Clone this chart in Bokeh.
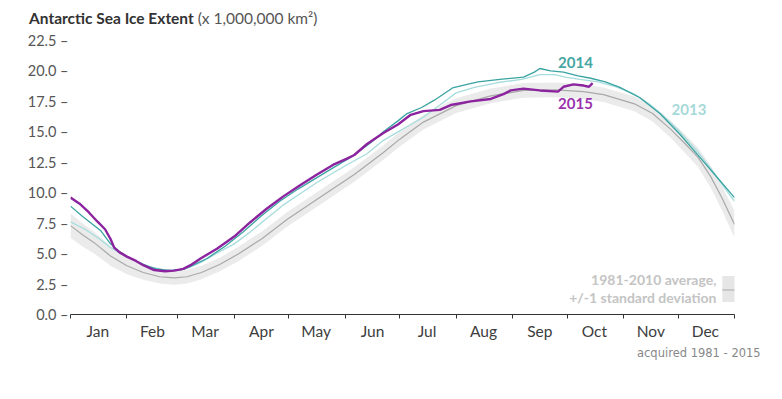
from bokeh.plotting import figure
from bokeh.models import (Range1d, FixedTicker, Label, BoxAnnotation, Div)
from bokeh.layouts import column
from bokeh.embed import file_html
from bokeh.resources import INLINE

# ---------------- data (day of year, million km^2) ----------------
month_names = ["Jan", "Feb", "Mar", "Apr", "May", "Jun", "Jul", "Aug", "Sep", "Oct", "Nov", "Dec"]
month_bounds = [0, 31, 59, 90, 120, 151, 181, 212, 243, 273, 304, 334, 365]
y_ticks = [0, 2.5, 5, 7.5, 10, 12.5, 15, 17.5, 20, 22.5]

avg_day = [0, 7, 13, 22, 31, 40, 49, 57, 64, 72, 82, 92, 105, 119, 137, 156, 172, 181, 194,
           212, 231, 249, 267, 282, 293, 310, 320, 330, 338, 345, 352, 358, 365]
avg_val = [7.3, 6.5, 5.9, 4.8, 4.0, 3.45, 3.1, 3.0, 3.1, 3.45, 4.1, 4.95, 6.2, 7.8, 9.6, 11.5, 13.3, 14.4, 15.8,
           17.15, 17.95, 18.4, 18.45, 18.3, 18.05, 17.3, 16.5, 15.2, 14.0, 12.9, 11.3, 9.6, 7.4]
avg_std = [1.0, 0.95, 0.9, 0.8, 0.7, 0.6, 0.55, 0.55, 0.55, 0.55, 0.55, 0.6, 0.6, 0.6, 0.6, 0.6, 0.6, 0.6, 0.6,
           0.6, 0.6, 0.6, 0.6, 0.6, 0.6, 0.6, 0.65, 0.7, 0.75, 0.8, 0.9, 1.0, 1.1]

d2013 = [0, 8, 16, 22, 29, 36, 44, 52, 60, 66, 72, 80, 90, 99, 108, 117, 126, 135, 144, 152, 163, 172,
         180, 187, 194, 203, 212, 222, 235, 248, 258, 266, 272, 280, 290, 300, 310, 318, 326, 335, 344, 353, 360, 365]
v2013 = [7.6, 7.0, 6.2, 5.5, 4.9, 4.4, 3.9, 3.65, 3.65, 3.9, 4.3, 5.0, 5.8, 6.8, 7.9, 9.0, 9.9, 10.8, 11.6, 12.3, 13.2, 14.3,
         15.0, 15.6, 16.2, 17.2, 18.2, 18.65, 19.05, 19.3, 19.7, 19.7, 19.5, 19.3, 19.1, 18.7, 18.1, 17.3, 16.3, 15.0, 13.5, 11.8, 10.3, 9.3]

d2014 = [0, 7, 16.5, 22, 27.5, 33, 40, 47, 55, 62, 68, 75, 85, 95, 105, 115, 125, 135, 145, 155, 165, 172,
         180, 185, 193, 200, 210, 218, 224, 236, 249, 255, 258, 264, 271, 279, 286, 294, 302, 313, 324, 335, 346, 355.5, 365]
v2014 = [8.9, 8.0, 6.9, 5.8, 5.1, 4.6, 4.1, 3.75, 3.6, 3.7, 4.1, 4.6, 5.6, 6.8, 8.1, 9.3, 10.3, 11.2, 12.1, 13.0, 14.1, 15.0,
         15.9, 16.5, 17.0, 17.6, 18.6, 18.9, 19.1, 19.3, 19.5, 19.9, 20.2, 20.0, 19.9, 19.6, 19.4, 19.1, 18.65, 17.8, 16.5, 14.8, 12.9, 11.25, 9.6]

d2015 = [0, 5, 10, 15, 19, 22, 24, 27, 31, 36, 40, 46, 52, 57, 62, 66, 71.5, 80.5, 90, 99, 108, 117, 126, 135.5,
         144.5, 152, 156, 163, 172, 180, 187, 194, 203, 209, 220, 231, 238, 242, 249, 258, 268, 271, 276.5, 282, 285, 287]
v2015 = [9.6, 9.1, 8.4, 7.6, 7.0, 6.2, 5.5, 5.1, 4.75, 4.4, 4.05, 3.65, 3.55, 3.6, 3.75, 4.05, 4.6, 5.4, 6.4, 7.6, 8.7, 9.7, 10.6, 11.5,
         12.3, 12.8, 13.1, 14.0, 14.9, 15.6, 16.4, 16.7, 16.8, 17.2, 17.5, 17.7, 18.1, 18.4, 18.55, 18.4, 18.3, 18.7, 18.9, 18.8, 18.7, 19.0]

# ---------------- figure ----------------
FONT = "Lato"
W = 776
p = figure(width=W, height=316, output_backend="svg", toolbar_location=None,
           x_range=Range1d(0, 365), y_range=Range1d(0, 22.5),
           min_border_left=70, min_border_right=42, min_border_top=12, min_border_bottom=30)
p.outline_line_color = None
p.xgrid.visible = False
p.ygrid.visible = False
p.background_fill_color = "white"

lo = [a - s for a, s in zip(avg_val, avg_std)]
hi = [a + s for a, s in zip(avg_val, avg_std)]
p.varea(x=avg_day, y1=lo, y2=hi, fill_color="#ebebeb")
p.line(avg_day, avg_val, line_color="#a9a9a9", line_width=1.2)
p.line(d2013, v2013, line_color="#a6dcdc", line_width=1.3)
p.line(d2014, v2014, line_color="#39a3a1", line_width=1.3)
p.line(d2015, v2015, line_color="#8c239f", line_width=2.4)

# x axis: month names centred, ticks at month boundaries
mids = [(month_bounds[i] + month_bounds[i + 1]) // 2 for i in range(12)]
xa = p.xaxis[0]
xa.ticker = FixedTicker(ticks=mids, minor_ticks=month_bounds)
xa.major_label_overrides = {m: n for m, n in zip(mids, month_names)}
xa.major_tick_out = 0
xa.major_tick_in = 0
xa.minor_tick_out = 4
xa.minor_tick_in = 0
xa.minor_tick_line_color = "#333333"
xa.axis_line_color = "#333333"
xa.major_label_text_font = FONT
xa.major_label_text_font_size = "15.5px"
xa.major_label_text_color = "#3d3d3d"
xa.major_label_standoff = 3

# y axis: labels "22.5 –"
ya = p.yaxis[0]
ya.ticker = FixedTicker(ticks=y_ticks, minor_ticks=[])
ya.major_label_overrides = {t: f"{t:.1f} \u2013" for t in y_ticks}
ya.axis_line_color = None
ya.major_tick_out = 0
ya.major_tick_in = 0
ya.minor_tick_out = 0
ya.minor_tick_in = 0
ya.major_label_text_font = FONT
ya.major_label_text_font_size = "14.5px"
ya.major_label_text_color = "#555555"
ya.major_label_standoff = 2

# series labels
p.add_layout(Label(x=277.6, y=20.7, text="2014", text_align="center", text_baseline="middle",
                   text_font=FONT, text_font_style="bold", text_font_size="15px", text_color="#45a6a4"))
p.add_layout(Label(x=277.6, y=17.3, text="2015", text_align="center", text_baseline="middle",
                   text_font=FONT, text_font_style="bold", text_font_size="15px", text_color="#9b32ae"))
p.add_layout(Label(x=340, y=16.8, text="2013", text_align="center", text_baseline="middle",
                   text_font=FONT, text_font_style="bold", text_font_size="15px", text_color="#a6d9d9"))

# legend for the average
p.add_layout(Label(x=355.1, y=2.84, text="1981-2010 average,", text_align="right", text_baseline="middle",
                   text_font=FONT, text_font_style="bold", text_font_size="14px", text_color="#c4c4c4"))
p.add_layout(Label(x=355.1, y=1.36, text="+/-1 standard deviation", text_align="right", text_baseline="middle",
                   text_font=FONT, text_font_style="bold", text_font_size="14px", text_color="#c4c4c4"))
p.add_layout(BoxAnnotation(left=358.3, right=366.5, bottom=1.03, top=3.17,
                           fill_color="#e6e6e6", fill_alpha=1, line_color=None))
p.add_layout(BoxAnnotation(left=358.3, right=366.5, bottom=1.97, top=2.05,
                           fill_color="#aaaaaa", fill_alpha=1, line_color=None))

# title and credit as page text around the figure
title_div = Div(
    text='<div style="padding:9px 0 0 29px; font-family:Lato; font-size:15.5px; line-height:18px; '
         'color:#555555; white-space:nowrap"><span style="font-weight:bold; color:#333333">'
         'Antarctic Sea Ice Extent</span> (x 1,000,000 km\u00b2)</div>',
    width=W, height=28, margin=0)
credit_div = Div(
    text='<div style="padding:2px 0 0 637px; font-family:\'DejaVu Sans\'; font-size:11.5px; '
         'line-height:14px; color:#888888; white-space:nowrap">acquired 1981 - 2015</div>',
    width=W, height=22, margin=0)

layout = column(title_div, p, credit_div, spacing=0)
open("out.html", "w").write(file_html(layout, INLINE))
